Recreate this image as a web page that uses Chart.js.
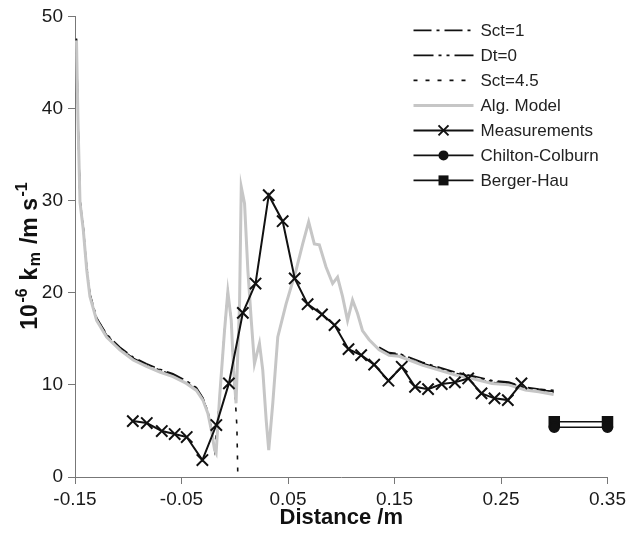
<!DOCTYPE html>
<html>
<head>
<meta charset="utf-8">
<script src="https://cdn.jsdelivr.net/npm/chart.js@4.4.0/dist/chart.umd.min.js"></script>
<style>
  html, body { margin: 0; padding: 0; background: #fff; }
  #wrap { width: 630px; height: 543px; position: relative; }
</style>
</head>
<body>
<div id="wrap"><canvas id="chart"></canvas></div>
<script>
const xTicks = [-0.15, -0.05, 0.05, 0.15, 0.25, 0.35];

// measurements (x markers)
const measX = [-0.0957, -0.0826, -0.0685, -0.0564, -0.0451, -0.0304, -0.0173, -0.0055, 0.0076, 0.0195,
  0.0319, 0.045, 0.0563, 0.0684, 0.0819, 0.0937, 0.1068, 0.1187, 0.1309, 0.1443,
  0.1568, 0.1693, 0.1815, 0.1943, 0.2067, 0.2192, 0.2317, 0.2439, 0.2564, 0.2692];
const measY = [6.07, 5.86, 4.99, 4.66, 4.34, 1.84, 5.64, 10.16, 17.82, 21.0,
  30.59, 27.77, 21.55, 18.76, 17.65, 16.49, 13.88, 13.23, 12.2, 10.45,
  11.96, 9.79, 9.54, 10.09, 10.27, 10.7, 9.08, 8.54, 8.35, 10.16];

// algebraic model (grey)
const algX = [-0.1486, -0.1472, -0.1453, -0.1422, -0.139, -0.136, -0.1297, -0.1203, -0.1079, -0.0954,
  -0.0829, -0.0704, -0.058, -0.0454, -0.036, -0.0299, -0.0252, -0.022, -0.0189, -0.0175,
  -0.0142, -0.0096, -0.0065, -0.0033, -0.0011, 0.0012, 0.0045, 0.0061, 0.0092, 0.0123,
  0.0155, 0.0185, 0.0232, 0.0263, 0.0295, 0.0319, 0.0357, 0.0404, 0.0482, 0.0576,
  0.0638, 0.0694, 0.0747, 0.0794, 0.0857, 0.0919, 0.0965, 0.1012, 0.1059, 0.1106,
  0.1153, 0.1199, 0.1262, 0.1356, 0.1449, 0.1543, 0.1637, 0.1761, 0.1918, 0.2074,
  0.2229, 0.2417, 0.2573, 0.2729, 0.2854, 0.2994];
const algY = [47.4, 38.7, 29.8, 26.8, 22.5, 19.6, 17.0, 15.2, 13.8, 12.7,
  12.0, 11.4, 10.9, 10.16, 9.4, 8.35, 6.9, 5.1, 2.93, 2.6,
  8.7, 15.9, 20.1, 17.0, 11.6, 8.0, 18.8, 31.5, 29.7, 22.45,
  17.0, 12.3, 14.5, 11.6, 6.2, 2.93, 8.0, 15.2, 18.8, 22.45,
  25.3, 27.7, 25.3, 25.2, 22.8, 21.0, 21.7, 19.6, 17.0, 19.2,
  17.75, 15.9, 14.9, 13.8, 13.2, 13.1, 12.7, 12.15, 11.6, 11.06,
  10.7, 10.16, 10.0, 9.44, 9.25, 8.95];

// CFD results (null = gap)
const sct1X = [-0.1486, -0.1472, -0.1453, -0.1422, -0.139, -0.136, -0.1297, -0.1203, -0.1079, -0.0954,
  -0.0829, -0.0704, -0.058, -0.0454, -0.036, -0.0299, -0.0252, -0.022, 0.06,
  0.1356, 0.1449, 0.1543, 0.1637, 0.1761, 0.1918, 0.2074, 0.2229, 0.2417, 0.2573, 0.2729, 0.2854, 0.2994];
const sct1Y = [47.6, 39.0, 30.1, 27.1, 22.8, 19.9, 17.3, 15.5, 14.1, 13.0,
  12.3, 11.7, 11.2, 10.45, 9.7, 8.6, 7.1, 5.3, null,
  14.1, 13.5, 13.4, 13.0, 12.45, 11.9, 11.36, 11.0, 10.46, 10.3, 9.74, 9.55, 9.4];
const dt0X = sct1X;
const dt0Y = [47.5, 38.9, 30.0, 27.0, 22.7, 19.8, 17.2, 15.4, 14.0, 12.9,
  12.2, 11.6, 11.1, 10.35, 9.6, 8.5, 7.0, 5.2, null,
  14.0, 13.4, 13.3, 12.9, 12.35, 11.8, 11.26, 10.9, 10.36, 10.2, 9.64, 9.45, 9.3];
const sct45X = [-0.1486, -0.1472, -0.1453, -0.1422, -0.139, -0.136, -0.1297, -0.1203, -0.1079, -0.0954,
  -0.0829, -0.0704, -0.058, -0.0454, -0.036, -0.0299, -0.0252, -0.022, -0.0189,
  -0.0142, -0.0096, -0.0065, -0.0033, -0.0011, 0.002, 0.0029, 0.06,
  0.1356, 0.1449, 0.1543, 0.1637, 0.1761, 0.1918, 0.2074, 0.2229, 0.2417, 0.2573, 0.2729, 0.2854, 0.2994];
const sct45Y = [47.4, 38.8, 29.9, 26.9, 22.6, 19.7, 17.1, 15.3, 13.9, 12.8,
  12.1, 11.5, 11.0, 10.26, 9.5, 8.45, 6.95, 5.15, 2.95,
  8.7, 15.9, 20.1, 17.0, 11.6, 5.5, 0, null,
  13.9, 13.3, 13.2, 12.8, 12.25, 11.7, 11.16, 10.8, 10.26, 10.1, 9.54, 9.35, 9.2];

// correlations
const chiltonX = [0.3, 0.35];
const chiltonY = [5.4, 5.4];
const bergerX = [0.3, 0.35];
const bergerY = [6.0, 6.0];

const pts = (xs, ys) => xs.map((x, i) => ({ x: x, y: ys[i] }));
const black = '#111';
const fontFamily = '"Liberation Sans", Arial, Helvetica, sans-serif';

// legend drawn inside the plot like the original
const sideLegend = {
  id: 'sideLegend',
  afterDraw(chart) {
    const c = chart.ctx;
    const a = chart.chartArea;
    const x0 = a.right - 194, x1 = a.right - 134, tx = a.right - 127;
    chart.data.datasets.forEach((ds, i) => {
      const y = a.top + 14 + i * 25;
      const mx = (x0 + x1) / 2;
      c.save();
      c.strokeStyle = ds.borderColor;
      c.lineWidth = ds.borderWidth;
      c.setLineDash(ds.borderDash || []);
      c.beginPath();
      c.moveTo(x0, y);
      c.lineTo(x1, y);
      c.stroke();
      c.setLineDash([]);
      c.fillStyle = black;
      c.strokeStyle = black;
      if (ds.pointStyle === 'crossRot') {
        c.lineWidth = 2;
        c.beginPath();
        c.moveTo(mx - 5, y - 5); c.lineTo(mx + 5, y + 5);
        c.moveTo(mx + 5, y - 5); c.lineTo(mx - 5, y + 5);
        c.stroke();
      } else if (ds.pointStyle === 'circle') {
        c.beginPath();
        c.arc(mx, y, 5, 0, Math.PI * 2);
        c.fill();
      } else if (ds.pointStyle === 'rect') {
        c.fillRect(mx - 5, y - 5, 10, 10);
      }
      c.fillStyle = '#222';
      c.font = '17px ' + fontFamily;
      c.textBaseline = 'middle';
      c.fillText(ds.label, tx, y + 1);
      c.restore();
    });
  }
};

// y title with super/subscripts
const yTitle = {
  id: 'yTitle',
  afterDraw(chart) {
    const c = chart.ctx;
    const parts = [['10', 0], ['-6', 1], [' k', 0], ['m', -1], [' /m s', 0], ['-1', 1]];
    const big = 'bold 23px ' + fontFamily;
    const small = 'bold 16px ' + fontFamily;
    const gap = 1.5;
    c.save();
    c.translate(31, 256);
    c.rotate(-Math.PI / 2);
    c.fillStyle = '#111';
    c.textBaseline = 'middle';
    let total = 0;
    const widths = parts.map(p => {
      c.font = p[1] ? small : big;
      const w = c.measureText(p[0]).width;
      total += w;
      return w;
    });
    total += gap * (parts.length - 1);
    let x = -total / 2;
    parts.forEach((p, i) => {
      c.font = p[1] ? small : big;
      const dy = p[1] === 1 ? -8 : (p[1] === -1 ? 5 : 0);
      c.fillText(p[0], x, dy);
      x += widths[i] + gap;
    });
    c.restore();
  }
};

const ctx = document.getElementById('chart').getContext('2d');
new Chart(ctx, {
  type: 'scatter',
  data: {
    datasets: [
      { label: 'Sct=1', data: pts(sct1X, sct1Y), showLine: true, borderColor: black, borderWidth: 1.6,
        borderDash: [18, 5, 3, 5], pointRadius: 0, order: 3 },
      { label: 'Dt=0', data: pts(dt0X, dt0Y), showLine: true, borderColor: black, borderWidth: 1.6,
        borderDash: [20, 5, 3, 5, 3, 5], pointRadius: 0, order: 3 },
      { label: 'Sct=4.5', data: pts(sct45X, sct45Y), showLine: true, borderColor: black, borderWidth: 1.6,
        borderDash: [4, 8], pointRadius: 0, order: 3 },
      { label: 'Alg. Model', data: pts(algX, algY), showLine: true, borderColor: '#c6c6c6', borderWidth: 3,
        pointRadius: 0, order: 2 },
      { label: 'Measurements', data: pts(measX, measY), showLine: true, borderColor: black, borderWidth: 2,
        pointStyle: 'crossRot', pointRadius: 8, pointBorderWidth: 2, pointBorderColor: black, order: 0 },
      { label: 'Chilton-Colburn', data: pts(chiltonX, chiltonY), showLine: true, borderColor: black, borderWidth: 1.6,
        pointStyle: 'circle', pointRadius: 5, pointBackgroundColor: black, pointBorderColor: black, clip: false, order: 1 },
      { label: 'Berger-Hau', data: pts(bergerX, bergerY), showLine: true, borderColor: black, borderWidth: 1.6,
        pointStyle: 'rect', pointRadius: 7, pointBackgroundColor: black, pointBorderColor: black, clip: false, order: 1 }
    ]
  },
  options: {
    responsive: true,
    maintainAspectRatio: false,
    animation: false,
    layout: { padding: { top: 16, right: 21, left: 0, bottom: 0 } },
    plugins: { legend: { display: false }, tooltip: { enabled: false } },
    scales: {
      x: {
        type: 'linear',
        min: -0.15,
        max: 0.35,
        afterBuildTicks: (s) => { s.ticks = xTicks.map(v => ({ value: v })); },
        afterFit: (s) => { s.height = 66; },
        ticks: { color: '#1a1a1a', font: { family: fontFamily, size: 19 }, padding: 4,
          callback: (v) => Number(v).toFixed(2) },
        grid: { drawOnChartArea: false, drawTicks: true, tickLength: 7, color: '#777' },
        border: { display: true, color: '#777', width: 1 },
        title: { display: true, text: 'Distance /m', color: '#111',
          font: { family: fontFamily, size: 22, weight: 'bold' }, padding: { top: 4, bottom: 12 } }
      },
      y: {
        min: 0,
        max: 50,
        afterFit: (s) => { s.width = 75; },
        ticks: { stepSize: 10, color: '#1a1a1a', font: { family: fontFamily, size: 19 }, padding: 5 },
        grid: { drawOnChartArea: false, drawTicks: true, tickLength: 7, color: '#777' },
        border: { display: true, color: '#777', width: 1 }
      }
    }
  },
  plugins: [sideLegend, yTitle]
});
</script>
</body>
</html>
